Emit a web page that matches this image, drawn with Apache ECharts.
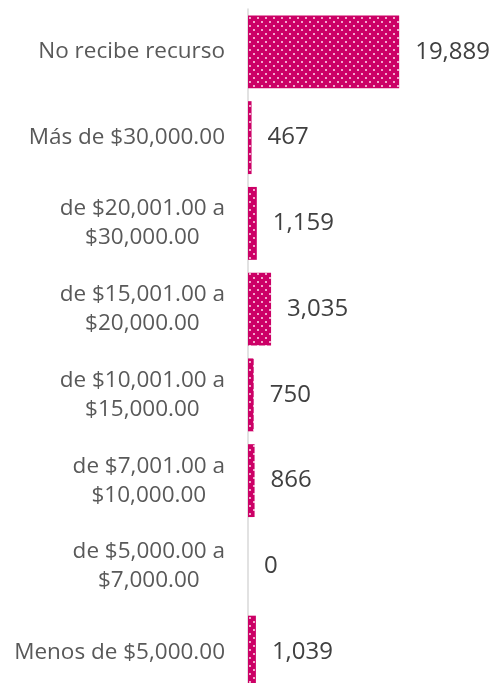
<!DOCTYPE html>
<html>
<head>
<meta charset="utf-8">
<script src="https://cdn.jsdelivr.net/npm/echarts@6/dist/echarts.min.js"></script>
<style>
  html, body { margin: 0; padding: 0; background: #fff; }
  #chart { width: 496px; height: 683px; }
</style>
</head>
<body>
<div id="chart"></div>
<script>
// categorias de ingreso (de arriba hacia abajo)
var categorias = [
  'No recibe recurso',
  'Más de $30,000.00',
  'de $20,001.00 a\n$30,000.00',
  'de $15,001.00 a\n$20,000.00',
  'de $10,001.00 a\n$15,000.00',
  'de $7,001.00 a\n$10,000.00',
  'de $5,000.00 a\n$7,000.00',
  'Menos de $5,000.00'
]
var valores = [19889, 467, 1159, 3035, 750, 866, 0, 1039]

// patron de puntos tipo Excel
function puntos() {
  var c = document.createElement('canvas')
  c.width = 8
  c.height = 8
  var ctx = c.getContext('2d')
  ctx.fillStyle = '#cc0066'
  ctx.fillRect(0, 0, 8, 8)
  ctx.fillStyle = '#f2a6cb'
  ctx.fillRect(1, 1, 2, 2)
  ctx.fillRect(5, 5, 2, 2)
  return c
}

var myChart = echarts.init(document.getElementById('chart'))
var option = {
  animation: false,
  grid: {
    left: 248,
    top: 9,
    width: 152,
    height: 686,
    outerBoundsMode: 'none'
  },
  xAxis: {
    type: 'value',
    min: 0,
    max: 20000,
    show: false
  },
  yAxis: {
    type: 'category',
    inverse: true,
    data: categorias,
    axisLine: {
      show: true,
      lineStyle: { color: '#d9d9d9', width: 1.5 }
    },
    axisTick: { show: false },
    axisLabel: {
      margin: 23,
      color: '#595959',
      fontFamily: 'Open Sans',
      fontSize: 22.5,
      lineHeight: 29,
      align: 'right',
      // lineas centradas entre si, bloque pegado al eje
      formatter: function (v) {
        return v.split('\n').map(function (s) { return '{c|' + s + '}' }).join('\n')
      },
      rich: {
        c: {
          align: 'center',
          color: '#595959',
          fontFamily: 'Open Sans',
          fontSize: 22.5,
          lineHeight: 29
        }
      }
    }
  },
  series: [{
    type: 'bar',
    data: valores,
    barCategoryGap: '15%',
    itemStyle: {
      color: { image: puntos(), repeat: 'repeat' }
    },
    label: {
      show: true,
      position: 'right',
      distance: 16,
      color: '#404040',
      fontFamily: 'Open Sans',
      fontSize: 24,
      formatter: function (p) {
        return p.value.toLocaleString('en-US')
      }
    }
  }]
}
myChart.setOption(option)
</script>
</body>
</html>
